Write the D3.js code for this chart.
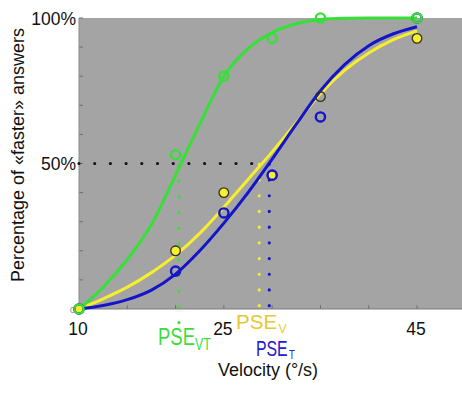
<!DOCTYPE html>
<html><head><meta charset="utf-8">
<script src="https://cdn.jsdelivr.net/npm/d3@7"></script>
<style>body{margin:0;background:#fff}svg{display:block;font-family:Arial,"Liberation Sans",sans-serif}</style>
</head><body>
<svg id="c" width="462" height="394"></svg>
<script>
// ---- data ----
const velocities = [10, 20, 25, 30, 35, 45];
const pointsVT = [0, 53, 80, 93, 100, 100];   // green open circles
const pointsV  = [0, 20, 40, 46, 73, 93];     // yellow filled circles
const pointsT  = [0, 13, 33, 46, 66, 100];    // blue open circles
const curveX   = [10, 12.5, 15, 17.5, 20, 22.5, 25, 27.5, 30, 32.5, 35, 37.5, 40, 42.5, 45];
const curveVT  = [0, 7.5, 17, 29, 46, 63.5, 80, 89.5, 95, 98, 99.5, 99.9, 100, 100, 100];
const curveV   = [0, 3.5, 7.5, 12.5, 18.5, 26, 35, 44.5, 54, 64, 74, 82, 88, 92.5, 95.6];
const curveT   = [0, 1.2, 3.2, 6.5, 12, 20, 29.5, 40, 51.5, 63.5, 75, 84, 90.5, 94.5, 97];
const pse      = {VT: 20.35, V: 28.66, T: 29.7};
const xTickLabels = [10, 25, 45];
const yTickLabels = [[100, "100%"], [50, "50%"]];

const GREEN = "#36e036", YELLOW = "#f6ee2e", BLUE = "#1414c8";

const svg = d3.select("#c");
const x = d3.scaleLinear().domain([10, 50]).range([79, 465.3]);
const y = d3.scaleLinear().domain([0, 100]).range([309, 18]);

// plot background
svg.append("rect").attr("x", x(10)).attr("y", y(100))
  .attr("width", x(50) - x(10)).attr("height", y(0) - y(100)).attr("fill", "#a4a4a4");

// ticks (inside)
const tk = svg.append("g").attr("stroke", "#6e6e6e").attr("stroke-width", 1);
d3.range(0, 101, 10).forEach(v => tk.append("line").attr("x1", x(10)).attr("x2", x(10) + 4).attr("y1", y(v)).attr("y2", y(v)));
d3.range(10, 51, 5).forEach(v => tk.append("line").attr("x1", x(v)).attr("x2", x(v)).attr("y1", y(0)).attr("y2", y(0) - 4));
svg.append("line").attr("x1", x(10)).attr("x2", x(50)).attr("y1", y(0)).attr("y2", y(0)).attr("stroke", "#7a7a7a").attr("stroke-width", 1);
svg.append("line").attr("x1", x(10)).attr("x2", x(10)).attr("y1", y(0)).attr("y2", y(100)).attr("stroke", "#8a8a8a").attr("stroke-width", 1);

// dotted lines
const dot = (sel, c) => sel.attr("stroke", c).attr("stroke-width", 3.2).attr("stroke-linecap", "round").attr("stroke-dasharray", "0 15.7").attr("fill", "none");
dot(svg.append("line").attr("x1", x(10)).attr("x2", x(pse.V)).attr("y1", y(50)).attr("y2", y(50)), "#111");
dot(svg.append("line").attr("x1", x(pse.VT)).attr("x2", x(pse.VT)).attr("y1", y(49.3)).attr("y2", y(-5)), GREEN);
dot(svg.append("line").attr("x1", x(pse.V)).attr("x2", x(pse.V)).attr("y1", y(49.7)).attr("y2", y(-1)), YELLOW);
dot(svg.append("line").attr("x1", x(pse.T)).attr("x2", x(pse.T)).attr("y1", y(49.7)).attr("y2", y(-1)), BLUE);

// fitted curves
const line = d3.line().x(d => x(d[0])).y(d => y(d[1])).curve(d3.curveMonotoneX);
const drawCurve = (vals, c) => svg.append("path").datum(curveX.map((v, i) => [v, vals[i]]))
  .attr("d", line).attr("fill", "none").attr("stroke", c).attr("stroke-width", 3);
drawCurve(curveV, YELLOW);
drawCurve(curveT, BLUE);
drawCurve(curveVT, GREEN);

// points
svg.append("g").selectAll("circle").data(velocities).join("circle")
  .attr("cx", d => x(d)).attr("cy", (d, i) => y(pointsV[i])).attr("r", 4.8)
  .attr("fill", (d, i) => i === 4 ? "none" : YELLOW).attr("stroke", "#33301a").attr("stroke-width", 1.3);
svg.append("g").selectAll("circle").data(velocities).join("circle")
  .attr("cx", d => x(d)).attr("cy", (d, i) => y(pointsT[i])).attr("r", 4.6)
  .attr("fill", "none").attr("stroke", BLUE).attr("stroke-width", 2.4);
svg.append("g").selectAll("circle").data(velocities).join("circle")
  .attr("cx", d => x(d)).attr("cy", (d, i) => y(pointsVT[i])).attr("r", 4.6)
  .attr("fill", "none").attr("stroke", GREEN).attr("stroke-width", 2.4);

// tick labels
svg.append("g").selectAll("text").data(xTickLabels).join("text")
  .attr("x", d => x(d) - 1).attr("y", 335).attr("text-anchor", "middle")
  .attr("font-size", 17.5).attr("fill", "#111").text(d => d);
svg.append("g").selectAll("text").data(yTickLabels).join("text")
  .attr("x", 76).attr("y", d => y(d[0]) + 6.5).attr("text-anchor", "end")
  .attr("font-size", 17.5).attr("fill", "#111").text(d => d[1]);
svg.append("text").attr("x", 72.5).attr("y", 312.5).attr("text-anchor", "middle")
  .attr("font-size", 9).attr("fill", "#888").text("0");

// axis titles
svg.append("text").attr("x", 268).attr("y", 376).attr("text-anchor", "middle")
  .attr("font-size", 18).attr("fill", "#111").text("Velocity (°/s)");
svg.append("text").attr("transform", "translate(24,155) rotate(-90)").attr("text-anchor", "middle")
  .attr("font-size", 18).attr("fill", "#111").text("Percentage of «faster» answers");

// PSE labels
function pseLabel(px, py, size, sx, sub, subSize, subDx, subDy, color) {
  const g = svg.append("g").attr("fill", color);
  g.append("text").attr("transform", `translate(${px},${py}) scale(${sx},1)`).attr("font-size", size).text("PSE");
  g.append("text").attr("transform", `translate(${px + subDx},${py + subDy}) scale(${sx},1)`).attr("font-size", subSize).text(sub);
}
pseLabel(158, 345, 24, 0.77, "VT", 16, 37, 4.5, "#3ddc3d");
pseLabel(236, 329, 21, 0.98, "V", 12.5, 42.5, 4, "#e6c832");
pseLabel(256, 355.5, 22, 0.72, "T", 13, 33, 3.5, "#2020d0");
</script>
</body></html>
